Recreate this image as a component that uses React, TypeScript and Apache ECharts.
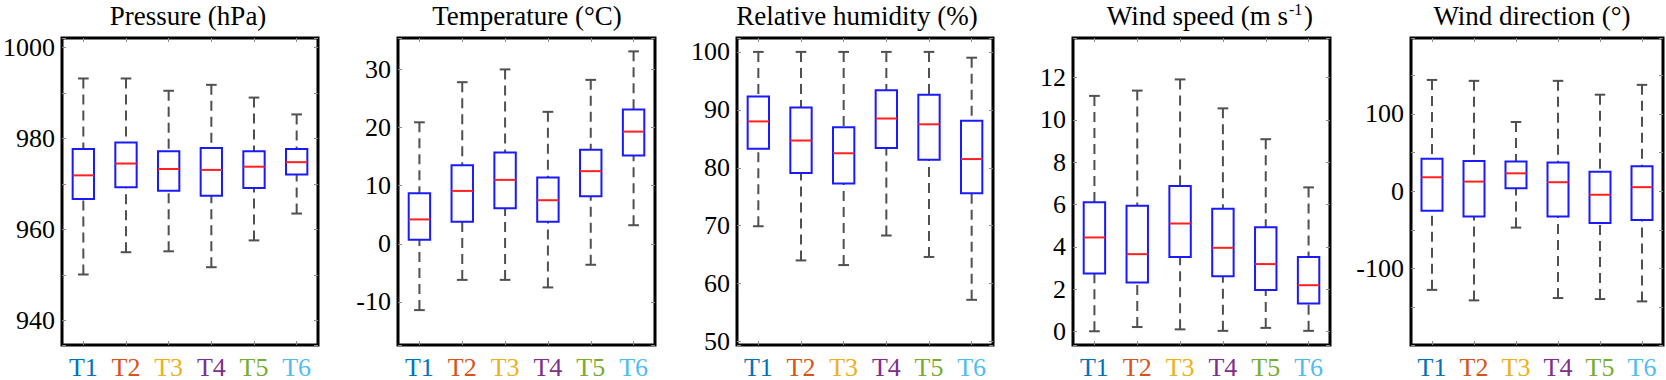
import React, { useEffect, useRef } from 'react';
import * as echarts from 'echarts';

const categories = ['T1', 'T2', 'T3', 'T4', 'T5', 'T6'];
const categoryColors = ['#0072BD', '#D95319', '#EDB120', '#7E2F8E', '#77AC30', '#4DBEEE'];

// each row: [min, q1, median, q3, max]
const pressureStats = [
  [950.1, 966.7, 971.9, 977.7, 993.2],
  [955.0, 969.3, 974.5, 979.1, 993.2],
  [955.2, 968.5, 973.3, 977.2, 990.5],
  [951.7, 967.4, 973.1, 977.9, 991.8],
  [957.6, 969.1, 973.8, 977.2, 989.0],
  [963.5, 972.1, 974.8, 977.7, 985.3],
];
const temperatureStats = [
  [-11.4, 0.7, 4.2, 8.7, 20.9],
  [-6.2, 3.8, 9.1, 13.5, 27.8],
  [-6.2, 6.1, 11.0, 15.7, 30.0],
  [-7.5, 3.8, 7.5, 11.4, 22.7],
  [-3.6, 8.2, 12.5, 16.2, 28.2],
  [3.2, 15.2, 19.3, 23.1, 33.1],
];
const humidityStats = [
  [69.9, 83.3, 88.0, 92.3, 100],
  [64.0, 79.1, 84.7, 90.4, 100],
  [63.2, 77.3, 82.5, 87.0, 100],
  [68.3, 83.4, 88.5, 93.4, 100],
  [64.6, 81.4, 87.5, 92.6, 100],
  [57.2, 75.6, 81.5, 88.1, 99.0],
];
const windSpeedStats = [
  [0.0, 2.73, 4.44, 6.11, 11.14],
  [0.2, 2.31, 3.65, 5.94, 11.39],
  [0.09, 3.52, 5.1, 6.87, 11.92],
  [0.02, 2.6, 3.95, 5.8, 10.55],
  [0.16, 1.95, 3.18, 4.92, 9.09],
  [0.02, 1.31, 2.18, 3.52, 6.81],
];
const windDirectionStats = [
  [-127.7, -25.5, 17.9, 41.7, 143.8],
  [-141.3, -32.8, 12.3, 39.1, 142.6],
  [-47.2, 3.8, 23.0, 38.3, 89.4],
  [-138.3, -32.8, 11.5, 37.0, 142.6],
  [-139.6, -41.3, -4.7, 25.1, 124.7],
  [-142.6, -37.4, 5.1, 32.3, 137.4],
];

const panelStats = [pressureStats, temperatureStats, humidityStats, windSpeedStats, windDirectionStats];
// [main text, superscript, closing]
const panelTitles = [
  ['Pressure (hPa)', ''],
  ['Temperature (°C)', ''],
  ['Relative humidity (%)', ''],
  ['Wind speed (m s', '-1', ')'],
  ['Wind direction (°)', ''],
];
const yMins = [934.6, -17.4, 49.4, -0.65, -199];
const yMaxs = [1002.1, 35.4, 102.4, 13.88, 198];
const tickSteps = [10, 10, 10, 2, 50];
const labelSteps = [20, 10, 10, 2, 100];

// layout
const gridLefts = [59, 398, 737, 1073, 1411];
const gridWidths = [259, 257, 256, 257, 252];
const gridTop = 38;
const gridHeight = 311;
const titleCenters = [188, 527, 857, 1210, 1532];
const FONT = 'Liberation Serif';

const isMultiple = (v: number, step: number) => Math.abs(v / step - Math.round(v / step)) < 1e-6;

const renderBox = (params: any, api: any) => {
  const x = api.value(0);
  const lo = api.coord([x, api.value(1)]);
  const q1 = api.coord([x, api.value(2)]);
  const md = api.coord([x, api.value(3)]);
  const q3 = api.coord([x, api.value(4)]);
  const hi = api.coord([x, api.value(5)]);
  const band = api.size([1, 0])[0];
  const hb = band * 0.25;
  const hc = band * 0.125;
  const cx = lo[0];
  const whisker = { stroke: '#505050', lineWidth: 2, lineDash: [10, 6], fill: 'none' };
  const cap = { stroke: '#505050', lineWidth: 2, fill: 'none' };
  return {
    type: 'group',
    children: [
      { type: 'line', shape: { x1: cx, y1: hi[1], x2: cx, y2: q3[1] }, style: whisker },
      { type: 'line', shape: { x1: cx, y1: lo[1], x2: cx, y2: q1[1] }, style: whisker },
      { type: 'line', shape: { x1: cx - hc, y1: hi[1], x2: cx + hc, y2: hi[1] }, style: cap },
      { type: 'line', shape: { x1: cx - hc, y1: lo[1], x2: cx + hc, y2: lo[1] }, style: cap },
      {
        type: 'rect',
        shape: { x: cx - hb, y: q3[1], width: 2 * hb, height: q1[1] - q3[1] },
        style: { fill: 'none', stroke: '#1a1aff', lineWidth: 2 },
      },
      { type: 'line', shape: { x1: cx - hb, y1: md[1], x2: cx + hb, y2: md[1] }, style: { stroke: '#ff2020', lineWidth: 2 } },
    ],
  };
};

export default function App() {
  const ref = useRef<HTMLDivElement>(null);
  useEffect(() => {
    if (!ref.current) return;
    const chart = echarts.init(ref.current, null, { renderer: 'svg' });
    const grids: any[] = [];
    const xAxes: any[] = [];
    const yAxes: any[] = [];
    const series: any[] = [];
    const graphics: any[] = [];
    const tick = { show: true, inside: true, length: 4, lineStyle: { color: '#8a8a8a', width: 1 } };
    panelStats.forEach((stats, i) => {
      grids.push({
        left: gridLefts[i], top: gridTop, width: gridWidths[i], height: gridHeight,
        show: true, borderColor: '#000', borderWidth: 3, backgroundColor: 'transparent',
      });
      const xBase = {
        gridIndex: i, type: 'category', data: categories,
        axisLine: { show: false, onZero: false }, splitLine: { show: false },
        axisTick: { ...tick, alignWithLabel: true },
      };
      xAxes.push({
        ...xBase, position: 'bottom',
        axisLabel: {
          show: true, margin: 9, fontFamily: FONT, fontSize: 26,
          color: (_v: any, idx: number) => categoryColors[idx],
        },
      });
      xAxes.push({ ...xBase, position: 'top', axisLabel: { show: false } });
      const yBase = {
        gridIndex: i, type: 'value', min: yMins[i], max: yMaxs[i],
        minInterval: tickSteps[i], maxInterval: tickSteps[i], splitNumber: 5,
        axisLine: { show: false, onZero: false }, splitLine: { show: false }, axisTick: tick,
      };
      yAxes.push({
        ...yBase, position: 'left',
        axisLabel: {
          show: true, margin: 7, fontFamily: FONT, fontSize: 26, color: '#000',
          formatter: (v: number) => (isMultiple(v, labelSteps[i]) ? String(Math.round(v)) : ''),
        },
      });
      yAxes.push({ ...yBase, position: 'right', axisLabel: { show: false } });
      series.push({
        type: 'custom',
        xAxisIndex: 2 * i, yAxisIndex: 2 * i,
        renderItem: renderBox,
        encode: { x: 0, y: [1, 2, 3, 4, 5] },
        data: stats.map((s, k) => [k, ...s]),
      });
      const t = panelTitles[i];
      if (!t[1]) {
        graphics.push({
          type: 'text', x: titleCenters[i], y: 16,
          style: { text: t[0], fill: '#000', fontFamily: FONT, fontSize: 27, align: 'center', verticalAlign: 'middle' },
        });
      } else {
        const mainEnd = titleCenters[i] + 78;
        graphics.push({
          type: 'text', x: mainEnd, y: 16,
          style: { text: t[0], fill: '#000', fontFamily: FONT, fontSize: 27, align: 'right', verticalAlign: 'middle' },
        });
        graphics.push({
          type: 'text', x: mainEnd + 1, y: 9,
          style: { text: t[1], fill: '#000', fontFamily: FONT, fontSize: 16, align: 'left', verticalAlign: 'middle' },
        });
        graphics.push({
          type: 'text', x: mainEnd + 16, y: 16,
          style: { text: t[2], fill: '#000', fontFamily: FONT, fontSize: 27, align: 'left', verticalAlign: 'middle' },
        });
      }
    });
    chart.setOption({
      animation: false,
      backgroundColor: '#fff',
      grid: grids,
      xAxis: xAxes,
      yAxis: yAxes,
      series,
      graphic: graphics,
    });
    return () => chart.dispose();
  }, []);
  return <div ref={ref} style={{ position: 'absolute', left: 0, top: 0, width: 1666, height: 380 }} />;
}
